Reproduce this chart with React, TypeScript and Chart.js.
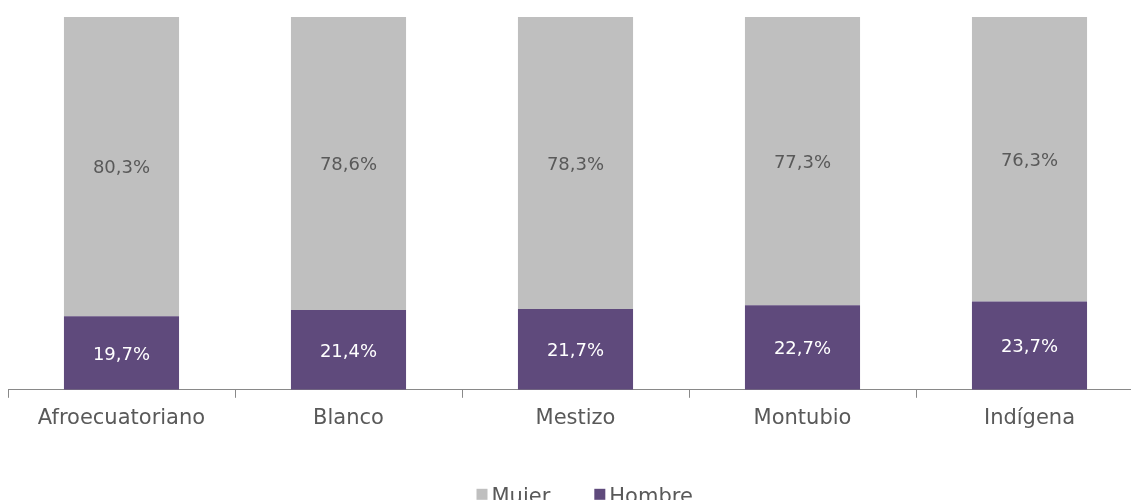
import React, { useEffect, useRef } from "react";
import { Chart, registerables } from "chart.js";

Chart.register(...registerables);

const categories = ["Afroecuatoriano", "Blanco", "Mestizo", "Montubio", "Indígena"];
const hombreValues = [19.7, 21.4, 21.7, 22.7, 23.7];
const mujerValues = [80.3, 78.6, 78.3, 77.3, 76.3];
const seriesNames = ["Hombre", "Mujer"];

const FONT = "'DejaVu Sans', sans-serif";

const labelPlugin = {
  id: "segLabels",
  afterDatasetsDraw(chart: any) {
    const ctx = chart.ctx;
    ctx.save();
    ctx.font = `18px ${FONT}`;
    ctx.textAlign = "center";
    ctx.textBaseline = "middle";
    chart.data.datasets.forEach((ds: any, di: number) => {
      const meta = chart.getDatasetMeta(di);
      meta.data.forEach((el: any, i: number) => {
        const v = ds.data[i] as number;
        const txt = v.toFixed(1).replace(".", ",") + "%";
        ctx.fillStyle = di === 0 ? "#ffffff" : "#595959";
        ctx.fillText(txt, el.x, (el.y + el.base) / 2 + 2);
      });
    });
    ctx.restore();
  },
};

const legendPlugin = {
  id: "customLegend",
  afterDraw(chart: any) {
    const ctx = chart.ctx;
    const ca = chart.chartArea;
    const cx = (ca.left + ca.right) / 2;
    ctx.save();
    ctx.font = `21px ${FONT}`;
    ctx.textBaseline = "alphabetic";
    ctx.textAlign = "left";
    let x = cx - 99;
    const boxTop = ca.bottom + 99;
    const baseline = ca.bottom + 113;
    const items = [...chart.data.datasets].reverse();
    items.forEach((ds: any) => {
      ctx.fillStyle = ds.backgroundColor;
      ctx.fillRect(x, boxTop, 11, 11);
      x += 15;
      ctx.fillStyle = "#595959";
      ctx.fillText(ds.label, x, baseline);
      x += ctx.measureText(ds.label).width + 44;
    });
    ctx.restore();
  },
};

export default function App() {
  const ref = useRef<HTMLCanvasElement>(null);
  useEffect(() => {
    const chart = new Chart(ref.current!, {
      type: "bar",
      data: {
        labels: categories,
        datasets: [
          { label: seriesNames[0], data: hombreValues, backgroundColor: "#5f4a7c" },
          { label: seriesNames[1], data: mujerValues, backgroundColor: "#bfbfbf" },
        ],
      },
      options: {
        animation: false,
        responsive: false,
        layout: { padding: { top: 17, left: 0, right: 0, bottom: 73 } },
        datasets: { bar: { categoryPercentage: 1, barPercentage: 0.507 } },
        scales: {
          x: {
            stacked: true,
            grid: { drawOnChartArea: false, drawTicks: true, tickLength: 8, offset: true, color: "#898989" },
            border: { color: "#898989", width: 1 },
            ticks: { color: "#595959", font: { family: FONT, size: 21 }, padding: 8 },
          },
          y: { stacked: true, display: false, min: 0, max: 100 },
        },
        plugins: {
          legend: { display: false },
          tooltip: { enabled: false },
        },
      } as any,
      plugins: [labelPlugin, legendPlugin],
    });
    return () => chart.destroy();
  }, []);
  return (
    <div style={{ position: "fixed", left: 0, top: 0, width: 1131, height: 500, overflow: "hidden", background: "#fff" }}>
      <canvas ref={ref} width={1135} height={512} style={{ position: "absolute", left: 8, top: 0 }} />
    </div>
  );
}
